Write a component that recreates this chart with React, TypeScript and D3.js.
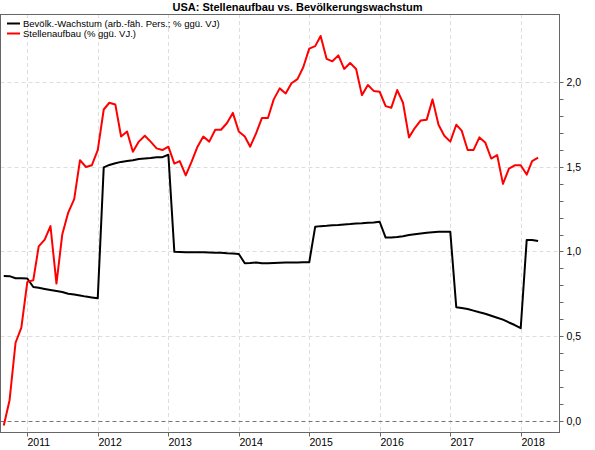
// App.tsx
// Line chart: US payroll growth vs. working-age population growth (% yoy), 2010-2018.
import React from 'react';
import * as d3 from 'd3';

// monthly observations, first point Sep 2010, last point Apr 2018
const firstMonth = new Date(2010, 8, 1);

const popGrowth = [
  0.855, 0.854, 0.842, 0.841, 0.84, 0.79, 0.785, 0.778, 0.772, 0.766, 0.76, 0.75,
  0.745, 0.739, 0.733, 0.728, 0.723, 1.498, 1.512, 1.522, 1.53, 1.535, 1.54, 1.547,
  1.55, 1.553, 1.557, 1.558, 1.572, 0.998, 0.997, 0.996, 0.996, 0.995, 0.995, 0.994,
  0.993, 0.993, 0.99, 0.988, 0.985, 0.93, 0.932, 0.935, 0.931, 0.93, 0.932, 0.934,
  0.935, 0.935, 0.935, 0.936, 0.936, 1.147, 1.15, 1.152, 1.155, 1.157, 1.16, 1.162,
  1.165, 1.167, 1.17, 1.172, 1.176, 1.082, 1.082, 1.085, 1.09, 1.097, 1.102, 1.107,
  1.111, 1.114, 1.117, 1.117, 1.117, 0.67, 0.665, 0.66, 0.65, 0.64, 0.632, 0.62,
  0.608, 0.597, 0.58, 0.565, 0.546, 1.068, 1.068, 1.062,
];

const jobGrowth = [
  -0.03, 0.12, 0.46, 0.55, 0.82, 0.83, 1.03, 1.07, 1.15, 0.81, 1.1, 1.23,
  1.31, 1.54, 1.5, 1.51, 1.6, 1.84, 1.88, 1.87, 1.68, 1.71, 1.59, 1.65,
  1.685, 1.65, 1.61, 1.6, 1.62, 1.52, 1.535, 1.45, 1.53, 1.62, 1.68, 1.65,
  1.72, 1.72, 1.76, 1.82, 1.71, 1.68, 1.62, 1.7, 1.79, 1.79, 1.9, 1.965,
  1.935, 1.995, 2.02, 2.09, 2.2, 2.215, 2.275, 2.14, 2.125, 2.16, 2.08, 2.115,
  2.08, 1.925, 1.985, 1.95, 1.945, 1.86, 1.85, 1.955, 1.88, 1.675, 1.73, 1.775,
  1.78, 1.9, 1.75, 1.685, 1.65, 1.75, 1.715, 1.6, 1.6, 1.675, 1.645, 1.55,
  1.57, 1.4, 1.49, 1.51, 1.51, 1.455, 1.535, 1.555,
];

const years = [2011, 2012, 2013, 2014, 2015, 2016, 2017, 2018];
const yTicks = [0, 0.5, 1, 1.5, 2];

const series = [
  { name: 'Bevölk.-Wachstum (arb.-fäh. Pers.; % ggü. VJ)', color: '#000000', values: popGrowth },
  { name: 'Stellenaufbau (% ggü. VJ.)', color: '#ff0000', values: jobGrowth },
];

const title = 'USA: Stellenaufbau vs. Bevölkerungswachstum';

const W = 595;
const H = 450;
const plot = { left: 0.5, right: 559.5, top: 14, bottom: 432 };
const font = '"Liberation Sans", Arial, sans-serif';

export default function App() {
  const x = d3
    .scaleTime()
    .domain([new Date(2010, 7, 15), new Date(2018, 6, 21)])
    .range([plot.left, plot.right]);
  const y = d3.scaleLinear().domain([-0.068, 2.405]).range([plot.bottom, plot.top]);

  const dateAt = (i: number) => d3.timeMonth.offset(firstMonth, i);
  const lineGen = d3
    .line<number>()
    .x((_, i) => x(dateAt(i)))
    .y((d) => y(d));

  const minorTicks = d3.range(0, 21).map((i) => i / 10);

  return (
    <svg
      width={W}
      height={H}
      style={{ position: 'absolute', left: 0, top: 0, background: '#fff' }}
      fontFamily={font}
    >
      <defs>
        <clipPath id="plotClip">
          <rect x={plot.left} y={plot.top} width={plot.right - plot.left} height={plot.bottom - plot.top} />
        </clipPath>
      </defs>

      {/* grid */}
      {years.map((yr) => (
        <line
          key={yr}
          x1={Math.round(x(new Date(yr, 0, 1))) + 0.5}
          x2={Math.round(x(new Date(yr, 0, 1))) + 0.5}
          y1={plot.top}
          y2={plot.bottom}
          stroke="#dddddd"
          strokeDasharray="4,3"
        />
      ))}
      {yTicks.map((t) => (
        <line
          key={t}
          x1={plot.left}
          x2={plot.right}
          y1={Math.round(y(t)) + 0.5}
          y2={Math.round(y(t)) + 0.5}
          stroke={t === 0 ? '#777777' : '#dddddd'}
          strokeDasharray="4,3"
        />
      ))}

      {/* series */}
      <g clipPath="url(#plotClip)">
        {series.map((s) => (
          <path
            key={s.name}
            d={lineGen(s.values) || ''}
            fill="none"
            stroke={s.color}
            strokeWidth={2}
            strokeLinejoin="round"
          />
        ))}
      </g>

      {/* frame */}
      <rect
        x={plot.left}
        y={plot.top + 0.5}
        width={plot.right - plot.left}
        height={plot.bottom - plot.top}
        fill="none"
        stroke="#666666"
      />

      {/* right axis */}
      {minorTicks.map((t) => (
        <line
          key={t}
          x1={plot.right}
          x2={plot.right + 4}
          y1={Math.round(y(t)) + 0.5}
          y2={Math.round(y(t)) + 0.5}
          stroke="#666666"
        />
      ))}
      {yTicks.map((t) => (
        <text key={t} x={plot.right + 7} y={y(t) + 4} fontSize={10.5} fill="#000">
          {d3.format('.1f')(t).replace('.', ',')}
        </text>
      ))}

      {/* bottom axis */}
      {years.map((yr) => {
        const px = Math.round(x(new Date(yr, 0, 1))) + 0.5;
        return (
          <g key={yr}>
            <line x1={px} x2={px} y1={plot.bottom + 0.5} y2={plot.bottom + 4.5} stroke="#666666" />
            <text x={px} y={plot.bottom + 14} fontSize={10.5} fill="#000">
              {yr}
            </text>
          </g>
        );
      })}

      {/* title */}
      <text x={W / 2} y={11} textAnchor="middle" fontSize={11} fontWeight="bold" fill="#000">
        {title}
      </text>

      {/* legend */}
      {series.map((s, i) => (
        <g key={s.name} transform={`translate(0, ${23.5 + i * 10})`}>
          <line x1={7} x2={20} y1={0} y2={0} stroke={s.color} strokeWidth={2} />
          <text x={23} y={3.5} fontSize={9.5} fill="#000">
            {s.name}
          </text>
        </g>
      ))}
    </svg>
  );
}
